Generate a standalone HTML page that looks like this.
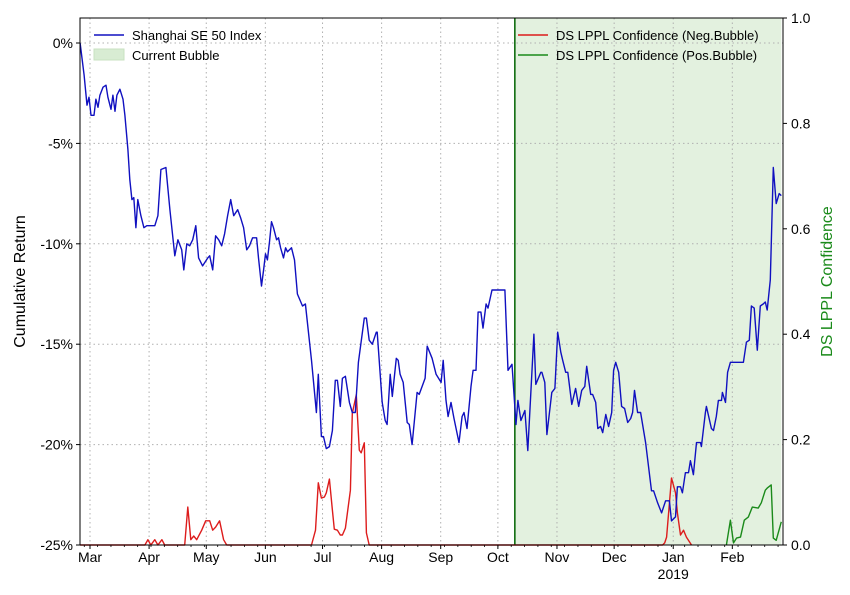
<!DOCTYPE html>
<html><head><meta charset="utf-8"><style>
html,body{margin:0;padding:0;background:#fff;}
svg{display:block;font-family:"Liberation Sans","DejaVu Sans",sans-serif;}
</style></head><body>
<svg id="chart" width="850" height="595" viewBox="0 0 850 595" xmlns="http://www.w3.org/2000/svg"></svg>
<script>
// ---- data ----
const monthTickDays = [0,31,61,92,122,153,184,214,245,275,306,337];
const monthTickLabels = ["Mar","Apr","May","Jun","Jul","Aug","Sep","Oct","Nov","Dec","Jan","Feb"];
const leftTicks = [0,-5,-10,-15,-20,-25];
const rightTicks = [0,0.2,0.4,0.6,0.8,1.0];
const bubbleRange = [222.9, 362.7];
const indexDays = [-5.2,-3.1,-1.6,-0.5,0.5,2.1,3.1,4.2,5.2,6.8,8.4,9.4,11.0,12.0,13.1,14.1,15.7,17.3,18.3,19.9,20.9,22.0,23.0,24.1,25.1,26.7,28.3,29.8,31.4,34.0,35.6,37.2,39.8,41.9,44.5,46.1,48.1,49.2,50.8,52.3,53.9,55.5,57.0,59.1,61.8,62.8,64.4,65.9,67.5,69.1,70.6,72.2,73.8,75.4,77.5,79.0,80.6,82.2,83.7,85.3,87.4,88.4,90.0,91.1,92.1,93.1,94.2,95.2,96.3,97.9,98.9,100.0,101.5,102.6,103.6,105.7,
107.3,108.8,111.5,113.0,116.2,118.8,119.8,121.4,122.5,124.0,125.6,127.2,128.7,129.8,131.3,132.4,134.0,136.1,137.6,139.2,140.8,143.9,145.0,146.5,148.1,150.2,150.7,153.3,154.9,155.9,157.5,158.6,160.7,161.7,162.7,164.3,166.4,167.5,169.0,171.6,172.7,175.8,176.9,179.5,181.6,184.2,185.3,186.8,187.9,189.4,191.0,193.6,195.2,196.2,197.8,199.9,201.0,202.5,203.6,205.1,206.2,207.8,208.8,210.9,217.7,219.3,221.4,223.5,224.5,226.1,228.2,229.7,232.9,233.9,
236.5,237.1,238.6,239.7,242.3,243.9,245.4,247.0,248.0,249.6,250.7,252.8,254.8,256.4,258.0,259.6,260.6,262.7,263.7,265.3,266.4,267.9,269.0,270.6,272.1,273.7,274.7,275.8,277.4,278.9,280.5,282.1,283.7,284.7,285.7,287.3,288.9,291.5,294.6,295.7,297.8,299.9,302.0,304.0,305.1,307.2,308.2,309.8,310.8,312.4,314.0,315.0,316.6,318.2,320.3,320.8,322.9,323.4,326.0,327.1,328.6,329.7,331.3,331.8,333.4,334.5,336.0,342.8,344.4,345.9,347.0,348.5,350.1,351.7,353.2,354.3,355.3,356.9,358.5,360.0,361.6,362.7];
const indexValues = [0,-1.6,-3.1,-2.7,-3.6,-3.6,-2.8,-3.2,-2.6,-2.2,-2.1,-2.7,-3.3,-2.6,-3.4,-2.6,-2.3,-2.8,-3.6,-5.3,-6.8,-7.8,-7.7,-9.2,-7.8,-8.6,-9.2,-9.1,-9.1,-9.1,-8.6,-6.3,-6.2,-8.3,-10.6,-9.8,-10.3,-11.3,-10.0,-10.1,-9.8,-9.1,-10.7,-11.1,-10.7,-10.6,-11.3,-9.6,-9.8,-10.1,-9.5,-8.6,-7.8,-8.6,-8.3,-8.7,-9.2,-10.3,-10.1,-9.7,-9.7,-10.7,-12.1,-11.3,-10.5,-10.8,-9.9,-8.9,-9.2,-9.8,-9.7,-10.2,-10.7,-10.2,-10.4,-10.2,
-10.8,-12.5,-13.1,-13.0,-15.8,-18.4,-16.5,-19.6,-19.6,-20.2,-20.1,-19.3,-16.8,-16.8,-18.1,-16.7,-16.6,-17.9,-18.4,-18.4,-15.9,-13.7,-13.7,-14.8,-15.0,-14.4,-14.4,-17.9,-18.8,-19.0,-16.5,-17.6,-15.7,-15.8,-16.5,-16.9,-18.9,-19.0,-20.0,-17.4,-17.5,-16.7,-15.1,-15.7,-16.5,-16.9,-15.8,-17.8,-18.6,-17.9,-18.7,-19.9,-18.6,-18.4,-19.2,-17.1,-16.3,-16.3,-13.4,-13.4,-14.2,-13.0,-13.2,-12.3,-12.3,-16.3,-16.0,-19.0,-17.8,-18.8,-18.3,-20.3,-14.5,-17.0,
-16.4,-16.4,-16.9,-19.5,-17.4,-17.2,-14.4,-15.4,-15.8,-16.4,-16.4,-18.0,-17.2,-18.1,-17.3,-17.1,-16.1,-17.5,-17.5,-17.9,-19.2,-19.1,-19.4,-18.5,-19.1,-18.4,-16.3,-15.9,-16.4,-18.1,-18.2,-18.9,-18.7,-18.4,-17.3,-18.4,-18.4,-19.9,-22.3,-22.3,-22.9,-23.4,-22.8,-22.8,-23.8,-23.6,-22.1,-22.1,-22.4,-21.4,-21.4,-20.8,-21.5,-19.9,-19.9,-20.1,-18.4,-18.1,-19.2,-19.3,-18.6,-17.8,-17.8,-17.4,-17.9,-16.4,-15.9,-15.9,-14.9,-14.8,-13.1,-13.2,-15.3,-13.1,-13.0,-12.9,-13.3,-11.8,-6.2,-8.0,-7.5,-7.6];
const negDays = [-5.2,28.8,30.4,31.9,34.0,35.6,37.7,39.2,49.7,51.3,52.9,54.4,56.0,58.6,60.7,62.8,64.4,65.9,68.0,70.1,71.7,116.2,118.3,119.8,121.4,123.0,124.0,125.6,127.2,128.2,129.8,131.3,132.4,134.0,136.6,137.6,139.7,141.3,142.3,143.9,145.0,146.5,300.4,301.5,302.5,305.1,307.2,308.2,309.8,311.4,312.9,315.6];
const negConf = [0,0,0.01,0,0.01,0,0.01,0,0,0.072,0.01,0.017,0.01,0.028,0.046,0.046,0.028,0.034,0.046,0.01,0,0,0.028,0.118,0.089,0.091,0.099,0.125,0.066,0.03,0.028,0.019,0.019,0.032,0.104,0.25,0.285,0.18,0.175,0.194,0.023,0,0,0.004,0.015,0.127,0.099,0.061,0.019,0.028,0.015,0];
const posDays = [333.9,336.0,337.6,339.2,341.3,343.3,345.4,347.5,350.6,352.2,354.3,355.3,357.4,358.5,360.0,362.7];
const posConf = [0,0.047,0.004,0.013,0.015,0.047,0.053,0.072,0.07,0.08,0.104,0.108,0.114,0.013,0.009,0.044];

// ---- geometry ----
const L=80,R=783,T=18,B=545;
const xS = d => 90 + d*1.906;
const yL = v => 43 + (-v)*20.08;
const yR = c => B - c*(B-T);
const NS="http://www.w3.org/2000/svg";
const svg=document.getElementById('chart');
function mk(tag,attrs,parent){const e=document.createElementNS(NS,tag);for(const k in attrs)e.setAttribute(k,attrs[k]);(parent||svg).appendChild(e);return e;}

// bubble shading
const bub=mk('rect',{x:xS(bubbleRange[0]),y:T,width:xS(bubbleRange[1])-xS(bubbleRange[0]),height:B-T,fill:'#e3f1df'});



// grid
monthTickDays.forEach(d=>{const g=mk('line',{x1:xS(d),x2:xS(d),y1:T,y2:B,stroke:'#b0b0b0','stroke-dasharray':'1.5,3','stroke-width':1});

});
leftTicks.forEach(v=>{const g=mk('line',{x1:L,x2:R,y1:yL(v),y2:yL(v),stroke:'#b0b0b0','stroke-dasharray':'1.5,3','stroke-width':1});

});

// bubble start line
const bl=mk('line',{x1:xS(bubbleRange[0]),x2:xS(bubbleRange[0]),y1:T,y2:B,stroke:'#006400','stroke-width':1.5});



function poly(xs,ys,fy,color,name){
  const p=mk('polyline',{points:xs.map((d,i)=>xS(d).toFixed(1)+','+fy(ys[i]).toFixed(1)).join(' '),fill:'none',stroke:color,'stroke-width':1.4,'stroke-linejoin':'round'});
  
  
}
poly(negDays,negConf,yR,'#dd1c1c','neg-bubble-confidence-line');
poly(posDays,posConf,yR,'#1a8a1a','pos-bubble-confidence-line');
poly(indexDays,indexValues,yL,'#1010c0','sse50-index-line');

// frame
const fr=mk('rect',{x:L,y:T,width:R-L,height:B-T,fill:'none',stroke:'#000','stroke-width':1});



// left ticks
leftTicks.forEach(v=>{const y=yL(v);
  mk('line',{x1:L-4,x2:L,y1:y,y2:y,stroke:'#000'});
  const t=mk('text',{x:L-7,y:y+5,'text-anchor':'end','font-size':14,fill:'#000'});t.textContent=v+'%';
  
  });
// right ticks
rightTicks.forEach(c=>{const y=yR(c);
  mk('line',{x1:R,x2:R+4,y1:y,y2:y,stroke:'#000'});
  const t=mk('text',{x:R+8,y:y+5,'font-size':14,fill:'#000'});t.textContent=c.toFixed(1);
  
  });
// x ticks
monthTickDays.forEach((d,i)=>{const x=xS(d);
  mk('line',{x1:x,x2:x,y1:B,y2:B+4,stroke:'#000'});
  const t=mk('text',{x:x,y:B+17,'text-anchor':'middle','font-size':14,fill:'#000'});t.textContent=monthTickLabels[i];
  
  });
// minor ticks (weekly-ish)
for(let d=-3; d<362; d+=7){const x=xS(d); if(x>L&&x<R) mk('line',{x1:x,x2:x,y1:B,y2:B+2,stroke:'#000','stroke-width':0.8});}
const yr=mk('text',{x:xS(306),y:B+34,'text-anchor':'middle','font-size':14,fill:'#000'});yr.textContent='2019';



// axis titles
const lt=mk('text',{x:25,y:(T+B)/2,'text-anchor':'middle','font-size':16,fill:'#000',transform:`rotate(-90 25 ${(T+B)/2})`});lt.textContent='Cumulative Return';


const rt=mk('text',{x:832,y:(T+B)/2,'text-anchor':'middle','font-size':16,fill:'#1a8a1a',transform:`rotate(-90 832 ${(T+B)/2})`});rt.textContent='DS LPPL Confidence';



// legends
function legLine(x,y,color,label,name){
  const g=mk('g',{});
  
  
  mk('line',{x1:x,x2:x+30,y1:y,y2:y,stroke:color,'stroke-width':1.5},g);
  const t=mk('text',{x:x+38,y:y+5,'font-size':13,fill:'#000'},g);t.textContent=label;
}
legLine(94,35,'#1010c0','Shanghai SE 50 Index','legend-index');
const lg=mk('g',{});


mk('rect',{x:94,y:49,width:30,height:11,fill:'#d8ecd3',stroke:'#c8e2c2'},lg);
const lgt=mk('text',{x:132,y:60,'font-size':13,fill:'#000'},lg);lgt.textContent='Current Bubble';
legLine(518,35,'#dd1c1c','DS LPPL Confidence (Neg.Bubble)','legend-neg-bubble');
legLine(518,55,'#1a8a1a','DS LPPL Confidence (Pos.Bubble)','legend-pos-bubble');
</script>
</body></html>
